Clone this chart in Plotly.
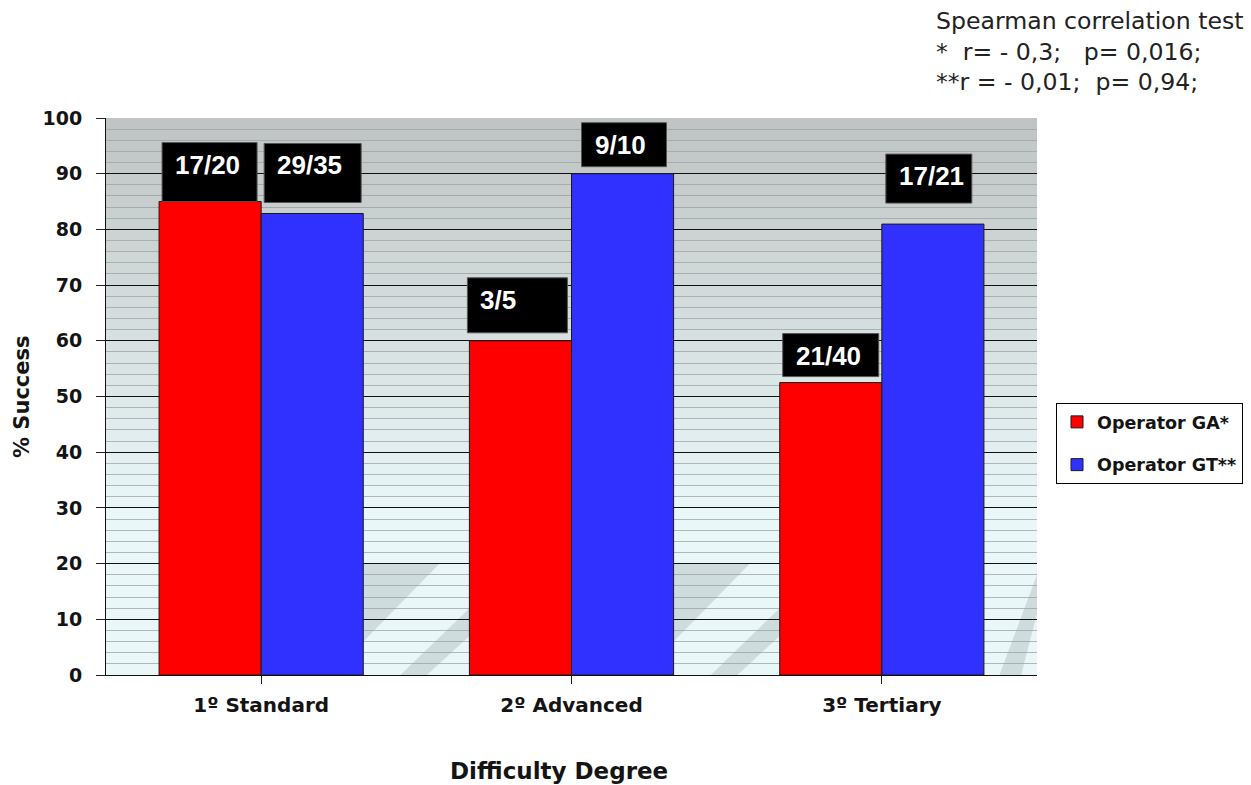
import plotly.graph_objects as go

# Success counts per difficulty degree for each operator
categories = ["1º Standard", "2º Advanced", "3º Tertiary"]
ga_success = [17, 3, 21]
ga_total = [20, 5, 40]
gt_success = [29, 9, 17]
gt_total = [35, 10, 21]
y_ticks = [0, 10, 20, 30, 40, 50, 60, 70, 80, 90, 100]

ga_pct = [100 * s / t for s, t in zip(ga_success, ga_total)]
gt_pct = [100 * s / t for s, t in zip(gt_success, gt_total)]
ga_text = [f"{s}/{t}" for s, t in zip(ga_success, ga_total)]
gt_text = [f"{s}/{t}" for s, t in zip(gt_success, gt_total)]

W, H = 1251, 785
ML, MR, MT, MB = 106, 214, 118, 110
PW, PH = W - ML - MR, H - MT - MB
BARGAP = 0.342
BW = (1 - BARGAP) / 2  # width of one bar in category units

TICK_FONT = dict(family="DejaVu Sans", size=19, color="#141414", weight="bold")


def px_x(px):
    return (px - ML) / PW


def px_y(py):
    return (H - MB - py) / PH


fig = go.Figure()
fig.add_trace(go.Bar(
    name="Operator GA*", x=list(range(3)), y=ga_pct,
    marker=dict(color="#ff0000", line=dict(color="#1a1a1a", width=1)),
    legendgroup="ga",
))
fig.add_trace(go.Bar(
    name="Operator GT**", x=list(range(3)), y=gt_pct,
    marker=dict(color="#3030ff", line=dict(color="#1a1a1a", width=1)),
    legendgroup="gt",
))

# Background: vertical gradient from grey at the top to pale cyan lower down
shapes = []
top_rgb = (191, 195, 195)
low_rgb = (233, 247, 248)
n_strips = 50
for k in range(n_strips):
    y0 = 100 * k / n_strips
    y1 = 100 * (k + 1) / n_strips
    mid = (y0 + y1) / 2
    t = min(max((mid - 30) / 70, 0), 1)  # 0 below 30, 1 at the top
    c = tuple(round(lo + (hi - lo) * t) for lo, hi in zip(low_rgb, top_rgb))
    shapes.append(dict(type="rect", xref="paper", yref="y", x0=0, x1=1,
                       y0=y0, y1=y1, fillcolor=f"rgb{c}", line=dict(width=0),
                       layer="below"))

# Soft floor shadows falling in the gaps between bar groups
shadow = "rgba(165,175,175,0.38)"


def poly(pts):
    return "M " + " L ".join(f"{x},{y}" for x, y in pts) + " Z"


for g in range(2):
    L = g + BW
    R = g + 1 - BW
    G = R - L
    shapes.append(dict(type="path", xref="x", yref="y", layer="below",
                       path=poly([(L, 20), (L + 0.72 * G, 20), (L, 6)]),
                       fillcolor=shadow, line=dict(width=0)))
    shapes.append(dict(type="path", xref="x", yref="y", layer="below",
                       path=poly([(L + 0.35 * G, 0), (L + 0.6 * G, 0), (R, 7), (R, 12)]),
                       fillcolor=shadow, line=dict(width=0)))
L = 2 + BW
shapes.append(dict(type="path", xref="x", yref="y", layer="below",
                   path=poly([(L + 0.05, 0), (L + 0.12, 0), (2.5, 11), (2.5, 18)]),
                   fillcolor=shadow, line=dict(width=0)))

# Fraction labels in black boxes above each bar (box offsets and sizes in px)
label_style = {
    ("ga", 0): dict(dx=3, dy=0, w=95, h=59),
    ("gt", 0): dict(dx=3, dy=11, w=97, h=59),
    ("ga", 1): dict(dx=-2, dy=8, w=100, h=55),
    ("gt", 1): dict(dx=10, dy=7, w=85, h=44),
    ("ga", 2): dict(dx=3, dy=6, w=96, h=43),
    ("gt", 2): dict(dx=4, dy=21, w=86, h=49),
}
annotations = []
for key, pcts, texts, left in (("ga", ga_pct, ga_text, -BW), ("gt", gt_pct, gt_text, 0.0)):
    for i, (v, txt) in enumerate(zip(pcts, texts)):
        st = label_style[(key, i)]
        shapes.append(dict(
            type="rect", xref="x", yref="y", layer="above",
            xsizemode="pixel", ysizemode="pixel", xanchor=i + left, yanchor=v,
            x0=st["dx"], x1=st["dx"] + st["w"], y0=st["dy"], y1=st["dy"] + st["h"],
            fillcolor="#000000", line=dict(color="#555555", width=1),
        ))
        annotations.append(dict(
            x=i + left, y=v, xref="x", yref="y", xanchor="left", yanchor="top",
            xshift=st["dx"] + 12, yshift=st["dy"] + st["h"] - 6, showarrow=False,
            text=f"<b>{txt}</b>", borderpad=0,
            font=dict(family="Liberation Sans", size=26, color="#ffffff"),
        ))

annotations.append(dict(
    xref="paper", yref="paper", x=px_x(934), y=px_y(5), xanchor="left", yanchor="top",
    showarrow=False, align="left",
    text="Spearman correlation test<br>*  r= - 0,3;   p= 0,016;<br>**r = - 0,01;  p= 0,94;",
    font=dict(family="DejaVu Sans", size=23.6, color="#222222"),
))
annotations.append(dict(
    xref="paper", yref="paper", x=px_x(22), y=px_y(397), xanchor="center", yanchor="middle",
    showarrow=False, textangle=-90, text="<b>% Success</b>",
    font=dict(family="DejaVu Sans", size=21, color="#141414"),
))
annotations.append(dict(
    xref="paper", yref="paper", x=px_x(559), y=px_y(771), xanchor="center", yanchor="middle",
    showarrow=False, text="<b>Difficulty Degree</b>",
    font=dict(family="DejaVu Sans", size=23, color="#141414"),
))

fig.update_layout(
    width=W, height=H,
    margin=dict(l=ML, r=MR, t=MT, b=MB, autoexpand=False),
    paper_bgcolor="#ffffff", plot_bgcolor="rgba(0,0,0,0)",
    barmode="group", bargap=BARGAP, bargroupgap=0,
    shapes=shapes, annotations=annotations,
    legend=dict(
        x=px_x(1056), y=px_y(403), xanchor="left", yanchor="top",
        bgcolor="#ffffff", bordercolor="#000000", borderwidth=1,
        font=dict(family="DejaVu Sans", size=17.5, color="#141414", weight="bold"),
        traceorder="grouped", tracegroupgap=17,
        itemwidth=30,
    ),
    xaxis=dict(
        range=[-0.5, 2.5], tickmode="array", tickvals=list(range(3)), ticktext=categories,
        tickson="boundaries", ticks="outside", ticklen=8, tickcolor="#222222",
        showline=True, linecolor="#111111", linewidth=1, showgrid=False, zeroline=False,
        tickfont=dict(TICK_FONT, size=20), ticklabelstandoff=4,
    ),
    yaxis=dict(
        range=[0, 100], tickmode="array", tickvals=y_ticks,
        ticks="outside", ticklen=9, tickcolor="#222222",
        showline=True, linecolor="#111111", linewidth=1, zeroline=False,
        showgrid=True, gridcolor="#111111", gridwidth=1,
        minor=dict(dtick=2, showgrid=True, gridcolor="rgba(150,155,155,0.7)", gridwidth=1.4),
        tickfont=TICK_FONT, ticklabelstandoff=10,
    ),
)

fig.write_html("out.html")
